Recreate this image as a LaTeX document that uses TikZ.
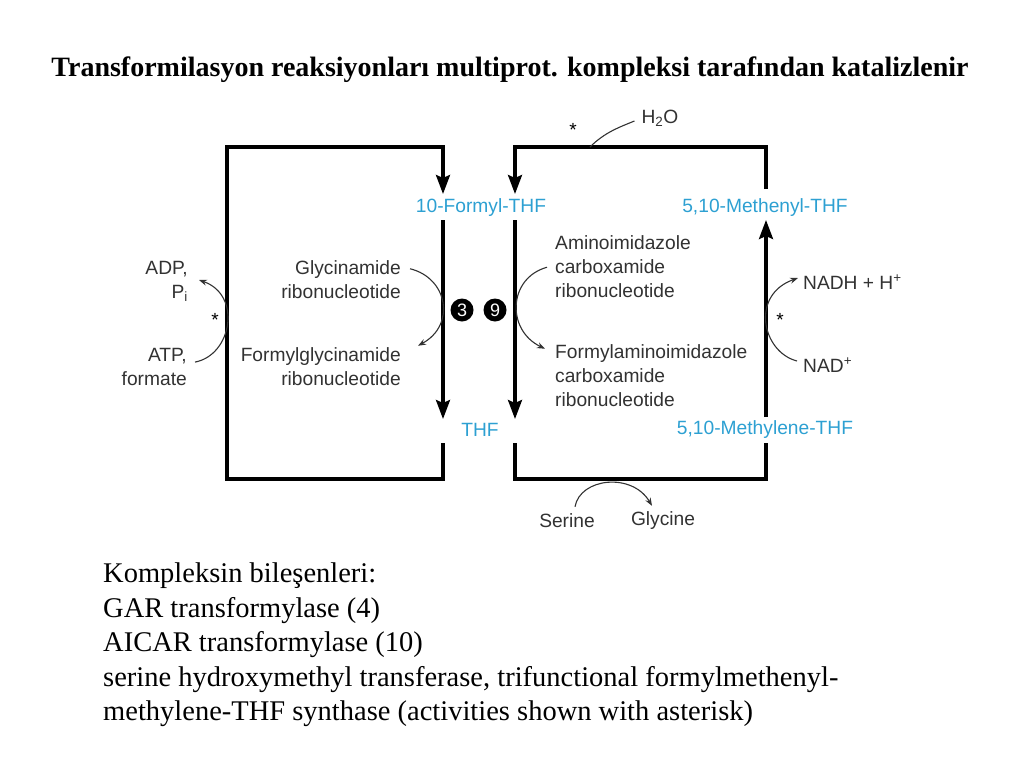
\documentclass[tikz,border=0pt]{standalone}
\usepackage{fontspec}
\setmainfont{Liberation Serif}
\newfontfamily\helv{Liberation Sans}
\usetikzlibrary{arrows.meta}

\definecolor{cofblue}{RGB}{45,160,210}
\definecolor{txtgray}{RGB}{50,50,50}

\tikzset{
    lbl/.style={inner sep=0pt, text=txtgray, font=\helv\fontsize{19.2}{24}\selectfont},
    cof/.style={inner sep=0pt, text=cofblue, font=\helv\fontsize{19.2}{24}\selectfont},
    startxt/.style={inner sep=0pt, text=black, font=\helv\fontsize{19}{19}\selectfont},
    wall/.style={line width=3.2pt, line join=miter},
    wallarrow/.style={wall, -{Stealth[length=19pt,width=14pt,inset=3pt]}},
    thinarrow/.style={line width=1.1pt, draw=txtgray, -{Stealth[length=8pt,width=6pt]}},
    enz/.style={circle, fill=black, text=white, inner sep=0pt, minimum size=23pt, font=\helv\fontsize{18}{18}\selectfont}
}

\begin{document}
\begin{tikzpicture}[x=1pt,y=-1pt]
    \useasboundingbox (0,0) rectangle (1024,768);

    % title
    \node[font=\fontsize{28}{32}\selectfont\bfseries] (title) at (510,70) {Transformilasyon reaksiyonları multiprot. kompleksi tarafından katalizlenir};

    % one-carbon carriers
    \node[cof] (formyl) at (481,208) {10-Formyl-THF};
    \node[cof] (thf) at (480,430) {THF};
    \node[cof] (methenyl) at (765,208) {5,10-Methenyl-THF};
    \node[cof] (methylene) at (765,430) {5,10-Methylene-THF};

    % enzymes
    \node[enz] (gart) at (462,310) {3};
    \node[enz] (aicart) at (495,310) {9};

    % left cycle
    \coordinate (lt) at (227,147);
    \coordinate (lb) at (227,479);
    \draw[wall] (443,443) -- (443,479) -- (lb) -- (lt) -- (443,147);
    \draw[wallarrow] (443,145.4) -- (443,194);
    \draw[wallarrow] (443,220) -- (443,419);

    % right cycle
    \coordinate (rt) at (766,147);
    \coordinate (rb) at (766,479);
    \draw[wall] (515,443) -- (515,479) -- (rb) -- (766,443);
    \draw[wallarrow] (766,417) -- (766,220);
    \draw[wall] (766,189) -- (rt) -- (515,147);
    \draw[wallarrow] (515,145.4) -- (515,194);
    \draw[wallarrow] (515,220) -- (515,419);

    % substrates
    \node[lbl, anchor=east, align=right] (gar) at (401,280) {Glycinamide\\ribonucleotide};
    \node[lbl, anchor=east, align=right] (fgar) at (401,367) {Formylglycinamide\\ribonucleotide};
    \node[lbl, anchor=west, align=left] (aicar) at (555,267) {Aminoimidazole\\carboxamide\\ribonucleotide};
    \node[lbl, anchor=west, align=left] (faicar) at (555,376) {Formylaminoimidazole\\carboxamide\\ribonucleotide};

    \draw[thinarrow] ([shift={(9,8)}]gar.north east) .. controls (448,278) and (456,325) .. ([shift={(17,-2)}]fgar.north east);
    \draw[thinarrow] ([shift={(-8,-31)}]aicar.south west) .. controls (508,278) and (506,330) .. ([shift={(-10,4)}]faicar.north west);

    % side reactions
    \node[lbl, anchor=east, align=right] (adp) at (188,281) {ADP,\\P\textsubscript{i}};
    \node[lbl, anchor=east, align=right] (atp) at (187,367) {ATP,\\formate};
    \node[startxt] (star1) at (215,320) {*};
    \draw[thinarrow] ([shift={(8,14)}]atp.north east) .. controls (232,355) and (242,295) .. ([shift={(11,-1)}]adp.east);

    \node[lbl, anchor=west] (nadh) at (803,282) {NADH + H\textsuperscript{+}};
    \node[lbl, anchor=west] (nad) at (803,365) {NAD\textsuperscript{+}};
    \node[startxt] (star2) at (780,320) {*};
    \draw[thinarrow] ([shift={(-6,-4)}]nad.west) .. controls (762,352) and (750,295) .. ([shift={(-5,-4)}]nadh.west);

    \coordinate (hyd) at (590,147);
    \node[lbl] (h2o) at (660,118) {H\textsubscript{2}O};
    \node[startxt] (star3) at (573,130) {*};
    \draw[line width=1.1pt, draw=txtgray] (hyd) .. controls (605,132) and (620,127) .. ([shift={(-7,3)}]h2o.west);

    \node[lbl] (ser) at (567,521) {Serine};
    \node[lbl] (gly) at (663,521) {Glycine};
    \draw[thinarrow] ([shift={(8,-7)}]ser.north) .. controls (580,478) and (632,472) .. ([shift={(-11,-6)}]gly.north);

    % components
    \node[anchor=north west, align=left, inner sep=0pt, font=\fontsize{28.5}{34.4}\selectfont] (comp) at (103,563)
        {Kompleksin bileşenleri:\\GAR transformylase (4)\\AICAR transformylase (10)\\serine hydroxymethyl transferase, trifunctional formylmethenyl-\\methylene-THF synthase (activities shown with asterisk)};
\end{tikzpicture}
\end{document}
